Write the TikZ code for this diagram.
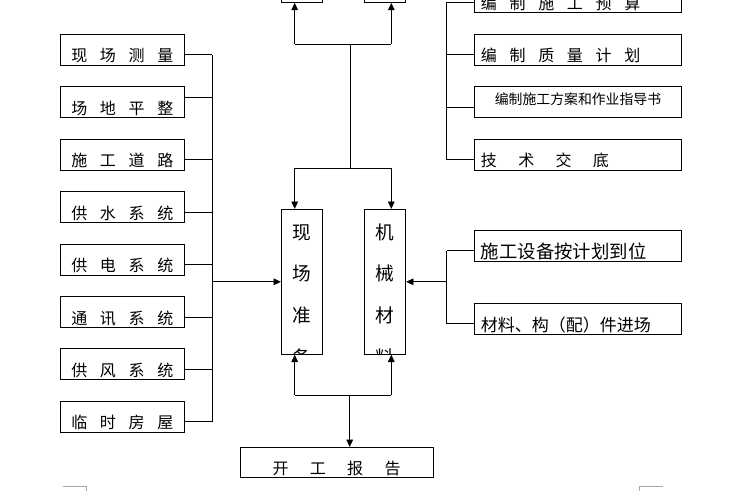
\documentclass[tikz,border=0pt]{standalone}
\usepackage{fontspec}
\newfontfamily\cjk{Noto Sans CJK SC}
\usetikzlibrary{arrows.meta,positioning}

\begin{document}
\begin{tikzpicture}[x=0.75pt, y=-0.75pt, node distance=15.47pt, line width=0.6pt,
  >={Triangle[length=5.5pt,width=5pt]},
  box/.style={draw, inner xsep=5pt, inner ysep=0pt, minimum height=23.25pt, text height=20.7pt, text depth=2.55pt},
  narrow/.style={font={\cjk\fontsize{12pt}{14pt}\selectfont}, execute at begin node={\spaceskip=9.5pt\relax}},
  wide/.style={font={\cjk\fontsize{12pt}{14pt}\selectfont}, execute at begin node={\spaceskip=16pt\relax}},
  leftbox/.style={box, narrow, minimum width=93pt},
  rightbox/.style={box, minimum width=155.55pt, text width=145.55pt, align=left},
  tallbox/.style={draw, minimum width=31.05pt, minimum height=108.75pt, inner sep=0pt},
  vchar/.style={anchor=base, inner sep=0pt, font={\cjk\fontsize{14pt}{16pt}\selectfont}},
  cornermark/.style={draw=gray!70, line width=0.75pt}]
  \useasboundingbox (0,0) rectangle (735,490);
  \clip (0,0) rectangle (735,490);

  % Left column
  \node[leftbox] (l1) at (122.3,49.8) {现 场 测 量};
  \node[leftbox, below=of l1] (l2) {场 地 平 整};
  \node[leftbox, below=of l2] (l3) {施 工 道 路};
  \node[leftbox, below=of l3] (l4) {供 水 系 统};
  \node[leftbox, below=of l4] (l5) {供 电 系 统};
  \node[leftbox, below=of l5] (l6) {通 讯 系 统};
  \node[leftbox, below=of l6] (l7) {供 风 系 统};
  \node[leftbox, below=of l7] (l8) {临 时 房 屋};

  % Middle
  \node[tallbox] (xc) at (302,281.8) {};
  \node[tallbox] (jx) at (385,281.8) {};
  \node[tallbox, minimum height=45pt, above=154.5pt of xc] (t1) {};
  \node[tallbox, minimum height=45pt, above=154.5pt of jx] (t2) {};
  \node[box, wide, minimum width=144.75pt, minimum height=22.5pt, text depth=1.8pt] (kg) at (336.5,462.3) {开 工 报 告};

  \begin{scope}
    \clip (xc.south west) rectangle (xc.north east);
    \foreach \c [count=\i] in {现,场,准,备}
      \node[vchar] (xc\i) at ([yshift={-22.6pt-31.3pt*(\i-1)}]xc.north) {\c};
  \end{scope}
  \begin{scope}
    \clip (jx.south west) rectangle (jx.north east);
    \foreach \c [count=\i] in {机,械,材,料}
      \node[vchar] (jx\i) at ([yshift={-22.6pt-31.3pt*(\i-1)}]jx.north) {\c};
  \end{scope}

  % Right column
  \node[rightbox, narrow] (r2) at (578,49.8) {编 制 质 量 计 划};
  \node[rightbox, narrow, above=of r2] (r1) {编 制 施 工 预 算};
  \node[rightbox, align=center, font={\cjk\fontsize{10.4pt}{12pt}\selectfont}, text height=13.1pt, text depth=10.15pt, below=of r2] (r3) {编制施工方案和作业指导书};
  \node[rightbox, wide, below=of r3] (r4) {技 术 交 底};
  \node[rightbox, font={\cjk\fontsize{13.8pt}{16pt}\selectfont}, text height=21.3pt, text depth=1.95pt] (rA) at (578,245.8) {施工设备按计划到位};
  \node[rightbox, font={\cjk\fontsize{12.75pt}{15pt}\selectfont}, text height=21.15pt, text depth=2.1pt, below=30.75pt of rA] (rB) {材料、构（配）件进场};

  % Buses
  \coordinate (lbus) at (212.3,0);
  \coordinate (rbus) at (446.7,0);
  \foreach \n in {l1,l3,l4,l5,l6,l7,l8}
    \draw ([yshift=-3.8pt]\n.east) -- ([yshift=-3.8pt]\n.east -| lbus);
  \draw ([yshift=3.6pt]l2.east) -- ([yshift=3.6pt]l2.east -| lbus);
  \draw ([yshift=-3.8pt]l1.east -| lbus) -- ([yshift=-3.8pt]l8.east -| lbus);
  \draw[->] (lbus |- xc.west) -- (xc.west);

  \foreach \n in {r1,r2,r3,r4,rA,rB}
    \draw ([yshift=-3.8pt]\n.west) -- ([yshift=-3.8pt]\n.west -| rbus);
  \draw ([yshift=-3.8pt]r1.west -| rbus) -- ([yshift=-3.8pt]r4.west -| rbus);
  \draw ([yshift=-3.8pt]rA.west -| rbus) -- ([yshift=-3.8pt]rB.west -| rbus);
  \draw[->] (rbus |- jx.east) -- (jx.east);

  % Top and bottom branches
  \coordinate (u1) at (294.7,44);
  \coordinate (u2) at (391.3,44);
  \coordinate (uc) at (350.3,44);
  \coordinate (m1) at (294.7,168.3);
  \coordinate (m2) at (391.3,168.3);
  \coordinate (mc) at (350.3,168.3);
  \coordinate (b1) at (294.7,395.3);
  \coordinate (b2) at (391.3,395.3);
  \coordinate (bc) at (349.7,395.3);

  \draw (u1) -- (u2);
  \draw (uc) -- (mc);
  \draw (m1) -- (m2);
  \draw[->] (u1) -- (u1 |- t1.south);
  \draw[->] (u2) -- (u2 |- t2.south);
  \draw[->] (m1) -- (m1 |- xc.north);
  \draw[->] (m2) -- (m2 |- jx.north);

  \draw (b1) -- (b2);
  \draw[->] (b1) -- (b1 |- xc.south);
  \draw[->] (b2) -- (b2 |- jx.south);
  \draw[->] (bc) -- (bc |- kg.north);

  % Page corner marks
  \draw[cornermark] (62.7,486.3) -- (86.3,486.3) -- (86.3,492);
  \draw[cornermark] (639.3,492) -- (639.3,486.3) -- (662.7,486.3);
\end{tikzpicture}
\end{document}
